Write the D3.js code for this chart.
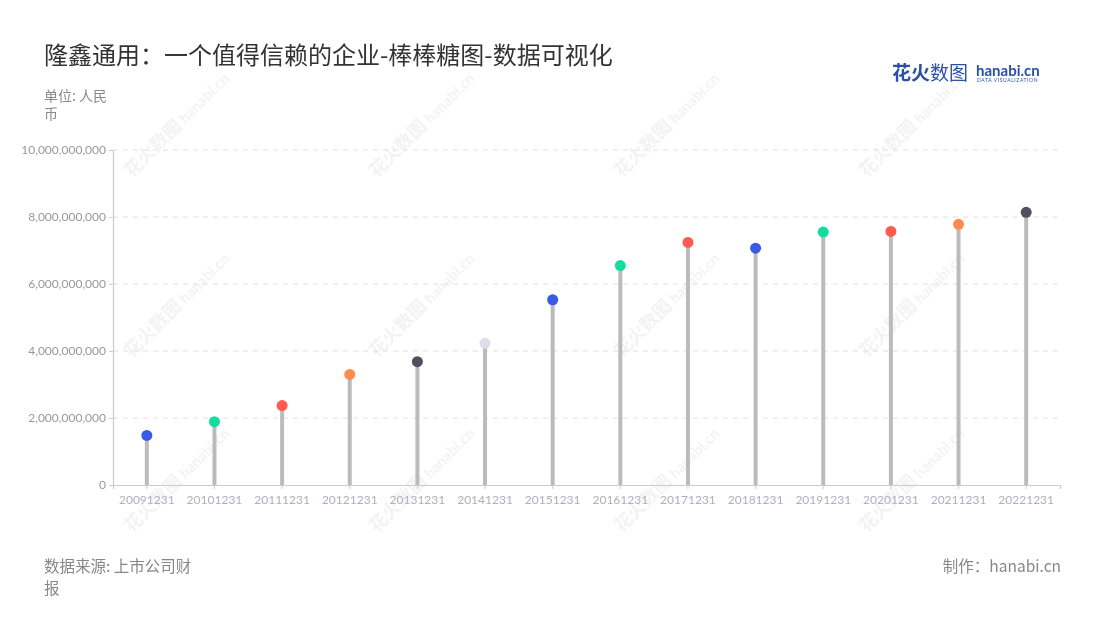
<!DOCTYPE html>
<html><head><meta charset="utf-8">
<script src="https://cdn.jsdelivr.net/npm/d3@7"></script>
<style>
body{margin:0;background:#fff;font-family:"Noto Sans CJK SC","Noto Sans",sans-serif;}
</style></head>
<body><svg id="c" width="1100" height="620"></svg>
<script>
const categories = ["20091231","20101231","20111231","20121231","20131231","20141231","20151231","20161231","20171231","20181231","20191231","20201231","20211231","20221231"];
const values = [1480000000,1890000000,2370000000,3300000000,3680000000,4230000000,5530000000,6550000000,7240000000,7070000000,7550000000,7570000000,7780000000,8140000000];
const dotColors = ["#3a5be6","#13dd9b","#ff5a4e","#ff8c4c","#505060","#dcdfea","#3a5be6","#13dd9b","#ff5a4e","#3a5be6","#13dd9b","#ff5a4e","#ff8c4c","#505060"];
const yTicks = [0,2000000000,4000000000,6000000000,8000000000,10000000000];

const svg = d3.select("#c");
const W=1100,H=620;
svg.append("rect").attr("width",W).attr("height",H).attr("fill","#fff");

// watermarks
const wmX=[160,405,650,895], wmY=[150,330,505];
const wm = svg.append("g").attr("opacity",0.45);
wmX.forEach(x=>wmY.forEach(y=>{
  const g=wm.append("g").attr("transform",`translate(${x},${y}) rotate(-45)`);
  g.append("text").attr("x",-40).attr("y",0).attr("font-size",18).attr("font-weight","bold").attr("fill","#e4e4e4").text("花火数图");
  g.append("text").attr("x",36).attr("y",0).attr("font-size",15).attr("font-weight","bold").attr("fill","#e4e4e4").attr("font-family","Lato, sans-serif").text("hanabi.cn");
}));

const m={l:113,r:1060,t:150,b:485};
const x=d3.scaleBand().domain(categories).range([m.l,m.r]);
const y=d3.scaleLinear().domain([0,10000000000]).range([m.b,m.t]);

// grid
svg.append("g").selectAll("line").data(yTicks.slice(1)).join("line")
  .attr("x1",m.l).attr("x2",m.r).attr("y1",d=>y(d)).attr("y2",d=>y(d))
  .attr("stroke","#e0e0e0").attr("stroke-dasharray","5,5");

// y axis
const ya=svg.append("g").attr("transform",`translate(${m.l},0)`)
  .call(d3.axisLeft(y).tickValues(yTicks).tickFormat(d3.format(",")).tickSize(4).tickPadding(3));
ya.select(".domain").attr("stroke","#ccc").attr("stroke-width",1.2);
ya.selectAll(".tick line").attr("stroke","#ccc");
ya.selectAll("text").attr("fill","#999").attr("font-size",12).attr("font-family","Lato, 'Noto Sans', sans-serif");

// x axis
const xa=svg.append("g").attr("transform",`translate(0,${m.b})`)
  .call(d3.axisBottom(x).tickSize(4).tickPadding(6));
xa.select(".domain").attr("stroke","#ccc").attr("stroke-width",1.2);
xa.selectAll(".tick line").attr("stroke","#ccc");
xa.selectAll("text").attr("fill","#aab0be").attr("font-size",12).attr("font-family","Lato, 'Noto Sans', sans-serif");

// stems
const cx=d=>x(d)+x.bandwidth()/2;
svg.append("g").selectAll("line").data(categories).join("line")
  .attr("x1",cx).attr("x2",cx).attr("y1",y(0)).attr("y2",(d,i)=>y(values[i]))
  .attr("stroke","#bbbbbb").attr("stroke-width",4);
svg.append("g").selectAll("circle").data(categories).join("circle")
  .attr("cx",cx).attr("cy",(d,i)=>y(values[i])).attr("r",5.5)
  .attr("fill",(d,i)=>dotColors[i]);

// title
svg.append("text").attr("x",44).attr("y",64).attr("font-size",24).attr("fill","#333").text("隆鑫通用：一个值得信赖的企业-棒棒糖图-数据可视化");
svg.append("text").attr("x",44).attr("y",101).attr("font-size",14).attr("fill","#8a8a8a").text("单位: 人民");
svg.append("text").attr("x",44).attr("y",119).attr("font-size",14).attr("fill","#8a8a8a").text("币");

// logo
svg.append("text").attr("x",892).attr("y",80).attr("font-size",19).attr("font-weight","bold").attr("fill","#2c4fa8").text("花火");
svg.append("text").attr("x",930).attr("y",80).attr("font-size",19).attr("fill","#2c4fa8").text("数图");
svg.append("text").attr("x",976).attr("y",76).attr("font-size",15).attr("font-weight","bold").attr("fill","#2c4fa8").attr("font-family","Lato, sans-serif").text("hanabi.cn");
svg.append("text").attr("x",977).attr("y",82).attr("font-size",5).attr("fill","#2c4fa8").attr("letter-spacing",0.6).attr("font-family","Lato, sans-serif").text("DATA VISUALIZATION");

// footer
svg.append("text").attr("x",44).attr("y",572).attr("font-size",15.5).attr("fill","#888").text("数据来源: 上市公司财");
svg.append("text").attr("x",44).attr("y",594).attr("font-size",15.5).attr("fill","#888").text("报");
svg.append("text").attr("x",1061).attr("y",572).attr("text-anchor","end").attr("font-size",15.5).attr("fill","#888").text("制作：hanabi.cn");
</script></body></html>
